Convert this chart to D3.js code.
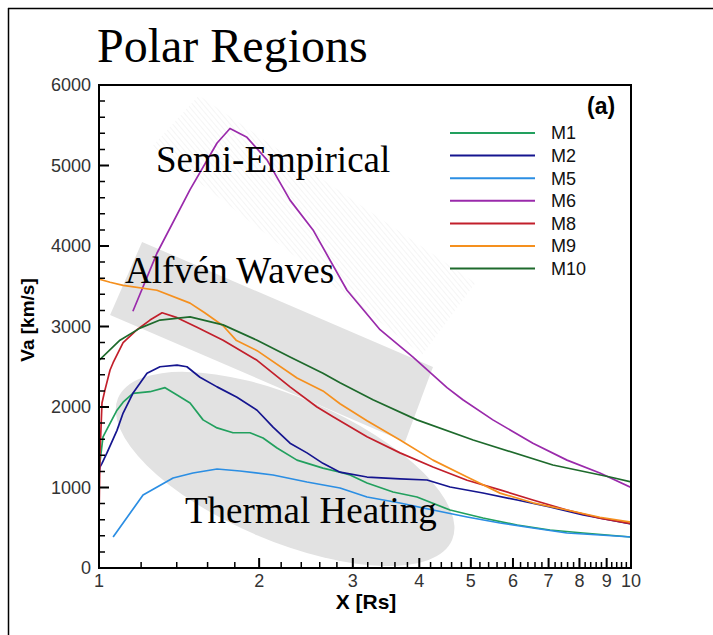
<!DOCTYPE html>
<html>
<head>
<meta charset="utf-8">
<script src="https://cdn.jsdelivr.net/npm/d3@7"></script>
<style>
html,body{margin:0;padding:0;background:#fff;}
svg{display:block;}
</style>
</head>
<body>
<svg id="chart" width="713" height="635"></svg>
<script>
// ---------- data ----------
const seriesNames = ["M1","M2","M5","M6","M8","M9","M10"];
const seriesColors = ["#22a05e","#15158f","#2b8ee3","#9a2aab","#c21f2b","#f5901e","#1e6a2c"];

const m1X = [1.0,1.0175,1.04,1.081,1.11,1.158,1.247,1.331,1.402,1.483,1.569,1.667,1.786,1.922,2.034,2.161,2.356,2.636,2.838,2.964,3.19,3.57,3.96,4.57,5.27,6.11,7.04,8.13,10];
const m1Y = [1220,1630,1750,1960,2060,2170,2190,2240,2150,2050,1840,1740,1680,1680,1615,1490,1340,1240,1190,1155,1056,944,882,720,621,534,472,435,385];

const m2X = [1.0,1.004,1.013,1.035,1.081,1.11,1.158,1.231,1.302,1.402,1.463,1.548,1.667,1.817,1.982,2.124,2.286,2.46,2.636,2.838,3.19,3.68,4.136,4.57,5.27,6.11,7.04,8.13,10];
const m2Y = [1150,1255,1300,1430,1710,1925,2170,2420,2500,2520,2500,2370,2250,2120,1960,1750,1550,1430,1300,1190,1130,1106,1093,1006,932,845,758,658,547];

const m5X = [1.063,1.21,1.378,1.502,1.667,1.841,2.124,2.46,2.838,3.19,3.68,4.244,4.92,5.674,6.54,7.58,8.74,10];
const m5Y = [385,907,1118,1180,1230,1205,1155,1068,994,882,807,720,634,559,497,435,410,385];

const m6X = [1.158,1.285,1.483,1.667,1.763,1.897,2.069,2.286,2.525,2.925,3.375,3.893,4.51,4.83,5.5,6.54,7.58,8.74,10];
const m6Y = [3190,3910,4700,5280,5460,5350,5070,4570,4200,3450,2960,2620,2240,2090,1840,1550,1340,1180,1000];

const m8X = [1.0,1.004,1.013,1.026,1.049,1.063,1.11,1.179,1.247,1.314,1.402,1.528,1.711,1.982,2.286,2.569,2.754,3.19,3.68,4.244,4.92,5.674,6.54,7.58,8.74,10];
const m8Y = [600,1400,2050,2210,2460,2550,2800,2960,3080,3170,3110,2990,2830,2580,2250,2000,1880,1630,1430,1255,1090,970,845,720,620,550];

const m9X = [1.0,1.049,1.11,1.285,1.483,1.58,1.711,1.81,1.982,2.356,2.636,2.838,3.19,3.68,4.244,4.92,5.674,6.54,7.58,8.74,10];
const m9Y = [3590,3550,3510,3450,3290,3170,3010,2830,2700,2360,2200,2040,1830,1590,1340,1130,930,810,720,630,570];

const m10X = [1.0,1.095,1.194,1.302,1.483,1.711,1.982,2.286,2.636,2.838,3.273,3.96,5.05,7.13,9.13,10];
const m10Y = [2580,2830,2980,3080,3120,3020,2830,2620,2420,2300,2090,1840,1590,1280,1130,1070];

const seriesX = [m1X,m2X,m5X,m6X,m8X,m9X,m10X];
const seriesY = [m1Y,m2Y,m5Y,m6Y,m8Y,m9Y,m10Y];

const xTickValues = [1,2,3,4,5,6,7,8,9,10];
const xTickLabels = ["1","2","3","4","5","6","7","8","9","10"];
const yTickValues = [0,1000,2000,3000,4000,5000,6000];
const yTickLabels = ["0","1000","2000","3000","4000","5000","6000"];

// annotation regions, in data coordinates [x (Rs), y (km/s)]
const alfvenBand = [[1.205,4050],[4.244,2497],[3.76,1565],[1.049,3143]];
const semiBand = [[1.54,5870],[5.1,3540],[4.05,2650],[1.26,5240]];
const thermalTips = [[1.086,2112],[4.61,348]]; // ends of the major axis

// ---------- chart ----------
const svg = d3.select("#chart");
const W = 713, H = 635;
const x = d3.scaleLog().domain([1,10]).range([99,631]);
const y = d3.scaleLinear().domain([0,6000]).range([568,85]);

// outer frame (top and left only visible)
svg.append("line").attr("x1",8).attr("y1",8.5).attr("x2",W).attr("y2",8.5).attr("stroke","#000").attr("stroke-width",1.5);
svg.append("line").attr("x1",8.5).attr("y1",8).attr("x2",8.5).attr("y2",H).attr("stroke","#000").attr("stroke-width",1.5);

// defs
const defs = svg.append("defs");
defs.append("clipPath").attr("id","plotClip").append("rect")
  .attr("x",99).attr("y",85).attr("width",532).attr("height",483);
const pat = defs.append("pattern").attr("id","hatch").attr("patternUnits","userSpaceOnUse")
  .attr("width",4).attr("height",4).attr("patternTransform","rotate(-40)");
pat.append("line").attr("x1",0).attr("y1",0).attr("x2",0).attr("y2",4)
  .attr("stroke","#dcdcdc").attr("stroke-width",0.6);

const plot = svg.append("g").attr("clip-path","url(#plotClip)");

// Alfvén band
plot.append("path")
  .attr("d", d3.line().x(d=>x(d[0])).y(d=>y(d[1])).curve(d3.curveLinearClosed)(alfvenBand))
  .attr("fill","#e2e2e2");
// semi-empirical hatched band
plot.append("path")
  .attr("d", d3.line().x(d=>x(d[0])).y(d=>y(d[1])).curve(d3.curveLinearClosed)(semiBand))
  .attr("fill","url(#hatch)");
// thermal ellipse
{
  const x1 = x(thermalTips[0][0]), y1 = y(thermalTips[0][1]);
  const x2 = x(thermalTips[1][0]), y2 = y(thermalTips[1][1]);
  const cx = (x1+x2)/2, cy = (y1+y2)/2;
  const rx = Math.hypot(x2-x1,y2-y1)/2;
  const ang = Math.atan2(y2-y1,x2-x1)*180/Math.PI;
  plot.append("ellipse").attr("cx",0).attr("cy",0).attr("rx",rx).attr("ry",72)
    .attr("transform",`translate(${cx},${cy}) rotate(${ang})`)
    .attr("fill","#e2e2e2");
}

// curves
const line = d3.line().x(d=>x(d[0])).y(d=>y(d[1]));
seriesNames.forEach((name,i)=>{
  const pts = seriesX[i].map((v,j)=>[v,seriesY[i][j]]);
  plot.append("path").attr("d",line(pts)).attr("fill","none")
    .attr("stroke",seriesColors[i]).attr("stroke-width",1.7).attr("stroke-linejoin","round");
});

// annotation text
const serif = "'Liberation Serif','Times New Roman',Times,serif";
const sans = "'Liberation Sans',Arial,Helvetica,sans-serif";
svg.append("text").attr("x",97).attr("y",62).attr("font-family",serif).attr("font-size",48).text("Polar Regions");
svg.append("text").attr("x",156).attr("y",172).attr("font-family",serif).attr("font-size",37).text("Semi-Empirical");
svg.append("text").attr("x",125).attr("y",283).attr("font-family",serif).attr("font-size",37).text("Alfvén Waves");
svg.append("text").attr("x",185).attr("y",523).attr("font-family",serif).attr("font-size",37).text("Thermal Heating");
svg.append("text").attr("x",587).attr("y",114).attr("font-family",sans).attr("font-weight","bold").attr("font-size",23).text("(a)");

// legend
const legend = svg.append("g");
seriesNames.forEach((name,i)=>{
  const ly = 133 + i*22.6;
  legend.append("line").attr("x1",450).attr("x2",535).attr("y1",ly).attr("y2",ly)
    .attr("stroke",seriesColors[i]).attr("stroke-width",2);
  legend.append("text").attr("x",551).attr("y",ly).attr("dy","0.36em")
    .attr("font-family",sans).attr("font-size",18).attr("fill","#111").text(name);
});

// axes: ticks drawn inward as one path each
const yMinor = d3.range(0,6001,200).filter(v=>v%1000!==0);
const xMinor = [];
for (let d=1; d<10; d++) for (let k=1;k<5;k++) xMinor.push(d+k*0.2);

const axes = svg.append("g").attr("class","axes");
const x0 = x(1), y0 = y(0);
const majPath = yTickValues.map(v=>`M${x0},${y(v)}h10`).join("") +
                xTickValues.map(v=>`M${x(v)},${y0}v-10`).join("");
const minPath = yMinor.map(v=>`M${x0},${y(v)}h6`).join("") +
                xMinor.map(v=>`M${x(v)},${y0}v-6`).join("");
axes.append("path").attr("d",majPath).attr("stroke","#000").attr("stroke-width",2).attr("fill","none");
axes.append("path").attr("d",minPath).attr("stroke","#000").attr("stroke-width",1.5).attr("fill","none");

axes.selectAll("text.ylab").data(yTickValues).join("text").attr("class","ylab")
  .attr("x",x0-8).attr("y",d=>y(d)).attr("dy","0.36em").attr("text-anchor","end")
  .attr("font-family",sans).attr("font-size",18).attr("fill","#333")
  .text((d,i)=>yTickLabels[i]);
axes.selectAll("text.xlab").data(xTickValues).join("text").attr("class","xlab")
  .attr("x",d=>x(d)).attr("y",y0+19).attr("text-anchor","middle")
  .attr("font-family",sans).attr("font-size",18).attr("fill","#333")
  .text((d,i)=>xTickLabels[i]);

// plot frame
svg.append("rect").attr("x",99).attr("y",85).attr("width",532).attr("height",483)
  .attr("fill","none").attr("stroke","#000").attr("stroke-width",2);

// axis titles
svg.append("text").attr("x",366).attr("y",609).attr("text-anchor","middle")
  .attr("font-family",sans).attr("font-weight","bold").attr("font-size",21).text("X [Rs]");
svg.append("text").attr("transform","translate(34,320) rotate(-90)").attr("text-anchor","middle")
  .attr("font-family",sans).attr("font-weight","bold").attr("font-size",19).text("Va [km/s]");
</script>
</body>
</html>
